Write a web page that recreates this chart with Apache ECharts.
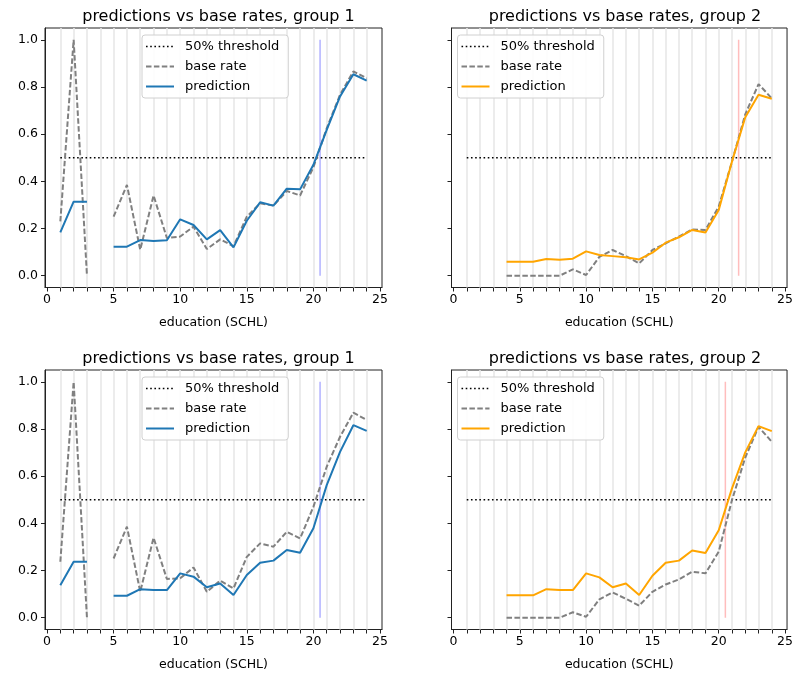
<!DOCTYPE html>
<html><head><meta charset="utf-8">
<script src="https://cdn.jsdelivr.net/npm/echarts@6/dist/echarts.min.js"></script>
<style>html,body{margin:0;padding:0;background:#fff}#c{width:796px;height:675px}</style>
</head><body><div id="c"></div>
<script>
const xs = [1,2,3,4,5,6,7,8,9,10,11,12,13,14,15,16,17,18,19,20,21,22,23,24];
const xTickMarks = [0,1,2,3,4,5,6,7,8,9,10,11,12,13,14,15,16,17,18,19,20,21,22,23,24,25];
const xTickLabels = [0,5,10,15,20,25];
const yTicks = [0,0.2,0.4,0.6,0.8,1.0];
const titles = ['predictions vs base rates, group 1','predictions vs base rates, group 2','predictions vs base rates, group 1','predictions vs base rates, group 2'];
const thresholdRange = [1, 24];
const thresholdValue = 0.5;
const cutoffs = [20.5, 21.5, 20.5, 20.5];

const baseTopG1 = [0.23,1.0,0.0,null,0.25,0.385,0.11,0.34,0.16,0.166,0.208,0.113,0.154,0.125,0.25,0.307,0.297,0.359,0.34,0.46,0.625,0.767,0.866,0.837];
const predTopG1 = [0.184,0.314,0.314,null,0.123,0.123,0.151,0.147,0.15,0.239,0.215,0.154,0.193,0.12,0.233,0.311,0.297,0.369,0.366,0.47,0.618,0.76,0.854,0.827];
const baseTopG2 = [null,null,null,0,0,0,0,0,0.027,0.003,0.08,0.109,0.083,0.052,0.109,0.137,0.166,0.196,0.194,0.293,0.484,0.684,0.812,0.752];
const predTopG2 = [null,null,null,0.059,0.059,0.059,0.071,0.068,0.072,0.103,0.088,0.083,0.078,0.069,0.098,0.14,0.163,0.194,0.183,0.279,0.484,0.672,0.767,0.75];
const baseBotG1 = [0.237,1.0,0.0,null,0.251,0.386,0.11,0.339,0.164,0.167,0.213,0.11,0.157,0.124,0.258,0.315,0.301,0.364,0.336,0.47,0.64,0.767,0.869,0.838];
const predBotG1 = [0.138,0.237,0.237,null,0.093,0.093,0.121,0.117,0.117,0.188,0.174,0.129,0.145,0.096,0.181,0.233,0.242,0.287,0.275,0.379,0.562,0.703,0.816,0.792];
const baseBotG2 = [null,null,null,0,0,0,0,0,0.023,0.004,0.078,0.107,0.08,0.051,0.11,0.141,0.162,0.195,0.188,0.28,0.499,0.679,0.809,0.746];
const predBotG2 = [null,null,null,0.095,0.095,0.095,0.121,0.117,0.117,0.188,0.171,0.129,0.145,0.096,0.178,0.233,0.242,0.285,0.274,0.371,0.548,0.701,0.812,0.791];

const panels = [
  {base: baseTopG1, pred: predTopG1, color: '#1f77b4', cut: '#b2b2ff'},
  {base: baseTopG2, pred: predTopG2, color: '#ffa500', cut: '#ffbdbd'},
  {base: baseBotG1, pred: predBotG1, color: '#1f77b4', cut: '#b2b2ff'},
  {base: baseBotG2, pred: predBotG2, color: '#ffa500', cut: '#ffbdbd'}
];

const FONT = 'DejaVu Sans';
const L = [45, 451.5], T = [28, 370], W = 337, H = 259.5;
const pos = [[0,0],[1,0],[0,1],[1,1]];
const toPairs = arr => xs.map((x,i) => [x, arr[i] == null ? '-' : arr[i]]);
const hidden = {color: 'rgba(0,0,0,0)', borderWidth: 0, opacity: 0};

const grid = [], xAxis = [], yAxis = [], series = [], title = [], legend = [];
pos.forEach(([c,r], k) => {
  grid.push({left: L[c], top: T[r], width: W, height: H, show: true, borderColor: '#222', borderWidth: 1, backgroundColor: 'transparent'});
  xAxis.push({type: 'value', gridIndex: k, min: -0.15, max: 25.15,
    name: 'education (SCHL)', nameLocation: 'middle', nameGap: 29,
    nameTextStyle: {fontFamily: FONT, fontSize: 12.5, color: '#000'},
    axisLine: {show: true, onZero: false, lineStyle: {color: '#222', width: 1}},
    axisTick: {show: true, customValues: xTickMarks, length: 4, lineStyle: {color: '#222'}},
    axisLabel: {show: true, customValues: xTickLabels, margin: 6, fontFamily: FONT, fontSize: 12.5, color: '#000'},
    splitLine: {show: false}});
  yAxis.push({type: 'value', gridIndex: k, min: -0.05, max: 1.05,
    axisLine: {show: true, onZero: false, lineStyle: {color: '#222', width: 1}},
    axisTick: {show: true, customValues: yTicks, length: 4, lineStyle: {color: '#222'}},
    axisLabel: {show: c === 0, customValues: yTicks, margin: 7, fontFamily: FONT, fontSize: 12.5, color: '#000', formatter: v => v.toFixed(1)},
    splitLine: {show: false}});
  title.push({text: titles[k], left: L[c] + W/2, top: T[r] - 24, textAlign: 'center',
    textStyle: {fontFamily: FONT, fontSize: 16, fontWeight: 'normal', color: '#000'}});
  const p = panels[k];
  series.push({type: 'line', xAxisIndex: k, yAxisIndex: k, data: [], silent: true, z: 1,
    markLine: {silent: true, symbol: 'none', label: {show: false}, animation: false, z: 1,
      lineStyle: {color: '#e8e8e8', width: 1.6, type: 'solid'},
      data: xs.map(x => ({xAxis: x}))}});
  series.push({type: 'line', name: '50% threshold', xAxisIndex: k, yAxisIndex: k, symbol: 'none', z: 3,
    data: thresholdRange.map(x => [x, thresholdValue]),
    lineStyle: {color: '#000', width: 1.6, type: [1.6, 2.6]}, itemStyle: {color: '#000'}});
  series.push({type: 'line', name: 'cutoff', xAxisIndex: k, yAxisIndex: k, symbol: 'none', z: 2,
    data: [[cutoffs[k], 0], [cutoffs[k], 1]],
    lineStyle: {color: p.cut, width: 1.5}, itemStyle: {color: p.cut}});
  series.push({type: 'line', name: 'base rate', xAxisIndex: k, yAxisIndex: k, symbol: 'none', z: 4, connectNulls: false,
    data: toPairs(p.base), lineStyle: {color: '#808080', width: 2, type: [5.5, 2.4]}, itemStyle: {color: '#808080'}});
  series.push({type: 'line', name: 'prediction', xAxisIndex: k, yAxisIndex: k, symbol: 'none', z: 5, connectNulls: false,
    data: toPairs(p.pred), lineStyle: {color: p.color, width: 2}, itemStyle: {color: p.color}});
  legend.push({orient: 'vertical', left: L[c] + (c === 0 ? 97 : 6), top: T[r] + 7, z: 20,
    backgroundColor: 'rgba(255,255,255,0.9)', borderColor: '#d0d0d0', borderWidth: 1, borderRadius: 3,
    padding: [5, 9, 5, 3], itemWidth: 28, itemHeight: 16, itemGap: 7, selectedMode: false,
    textStyle: {fontFamily: FONT, fontSize: 13, color: '#000', padding: [0,0,0,6]},
    data: [
      {name: '50% threshold', itemStyle: hidden, lineStyle: {color: '#000', type: [1.6, 2.6], width: 1.6}},
      {name: 'base rate', itemStyle: hidden, lineStyle: {color: '#808080', type: [5.5, 2.4], width: 2}},
      {name: 'prediction', itemStyle: hidden, lineStyle: {color: p.color, type: 'solid', width: 2}}
    ]});
});

const chart = echarts.init(document.getElementById('c'), null, {renderer: 'canvas'});
chart.setOption({animation: false, backgroundColor: '#fff', title, grid, xAxis, yAxis, legend, series});
</script></body></html>
